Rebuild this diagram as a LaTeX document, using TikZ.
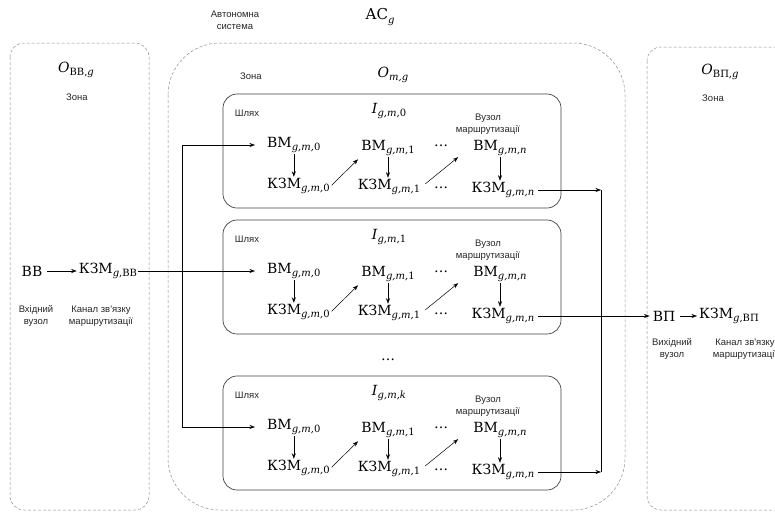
\documentclass[tikz,border=0pt]{standalone}
\usepackage{fontspec}
\setmainfont{DejaVu Serif}
\newfontfamily\labelfont{Liberation Sans}
\usetikzlibrary{arrows.meta}

% lowered small index
\newcommand\lsub[1]{\raisebox{-3.5pt}{\fontsize{10}{10}\selectfont #1}}
% index of the form g,m,<j>
\newcommand\gmi[1]{\lsub{\textit{g,m,}#1}}

% one route (path) box: #1 name prefix, #2 top edge, #3 route index
\newcommand\routepath[3]{%
  \draw[pathbox] (223,#2) rectangle (561,#2+114);
  \node[note] (#1-lab) at (247,#2+19) {Шлях};
  \node[big] (#1-id) at (389,#2+17) {\textit{I}\lsub{#3}};
  \node[note] (#1-rn) at (488,#2+30) {Вузол\\маршрутизації};
  \node[big, anchor=west] (#1-v0) at (266,#2+51) {ВМ\gmi{0}};
  \node[big, anchor=west] (#1-k0) at (266,#2+92) {КЗМ\gmi{0}};
  \node[big] (#1-v1) at (388,#2+54) {ВМ\gmi{1}};
  \node[big] (#1-k1) at (389,#2+93) {КЗМ\gmi{1}};
  \node[big] (#1-d1) at (441,#2+52) {…};
  \node[big] (#1-d2) at (441,#2+94) {…};
  \node[big] (#1-vn) at (500,#2+54) {ВМ\gmi{\textit{n}}};
  \node[big] (#1-kn) at (503,#2+96) {КЗМ\gmi{\textit{n}}};
  \draw[arr] (#1-v0.south) -- (#1-v0.south |- #1-k0.north);
  \draw[arr] (#1-v1.south) -- (#1-v1.south |- #1-k1.north);
  \draw[arr] (#1-vn.south) -- (#1-vn.south |- #1-kn.north);
  \draw[arr, shorten <=1pt, shorten >=3pt] (#1-k0.east) -- (#1-v1.south west);
  \draw[arr, shorten <=5pt] (#1-k1.east) -- ([xshift=-14pt]#1-vn.south west);
}

\begin{document}
\begin{tikzpicture}[x=1pt, y=-1pt,
  every node/.style={inner sep=1pt},
  big/.style={font=\fontsize{14}{16}\selectfont},
  note/.style={font=\labelfont\fontsize{9.5}{12}\selectfont, align=center, text=black!85},
  zone/.style={draw=black!45, densely dashed, line width=0.5pt},
  pathbox/.style={draw=black!75, line width=0.7pt, rounded corners=14pt},
  arr/.style={-{Stealth[length=5.5pt,width=4pt]}, line width=0.5pt},
  link/.style={line width=0.5pt}
]
\useasboundingbox (0,0) rectangle (775,512);
\clip (0,0) rectangle (775,512);

% zones
\draw[zone, rounded corners=14pt] (10,43) rectangle (149,510);
\draw[zone, rounded corners=52pt] (168,43) rectangle (625,510);
\draw[zone, rounded corners=14pt] (647,47) rectangle (800,510);

% headings
\node[note] (ashead) at (235,20) {Автономна\\система};
\node[font=\fontsize{15}{17}\selectfont] (as) at (380,17) {АС\lsub{\textit{g}}};
\node[big] (obb) at (76,70) {\textit{O}\lsub{ВВ,\textit{g}}};
\node[note] (zbb) at (77,97) {Зона};
\node[big] (om) at (393,75) {\textit{O}\lsub{\textit{m,g}}};
\node[note] (zm) at (251,76) {Зона};
\node[big] (ovp) at (720,72) {\textit{O}\lsub{ВП,\textit{g}}};
\node[note] (zvp) at (713,98) {Зона};

% routes
\routepath{a}{94}{\textit{g,m,}0}
\routepath{b}{220}{\textit{g,m,}1}
\routepath{c}{376}{\textit{g,m,k}}
\node[big] (gap) at (388,360) {…};

% ingress side
\node[big] (bb) at (32,271) {ВВ};
\node[big] (kbb) at (108,271) {КЗМ\lsub{\textit{g},ВВ}};
\node[note] (bbtxt) at (36,316) {Вхідний\\вузол};
\node[note] (kbbtxt) at (101,316) {Канал зв'язку\\маршрутизації};
\draw[arr, shorten <=4pt, shorten >=1pt] (bb) -- (kbb);
\coordinate (fork) at (kbb.east -| 182,0);
\draw[arr, shorten >=11pt] (kbb.east) -- (kbb.east -| b-v0.west);
\draw[arr, shorten >=11pt] (fork) |- (a-v0.west);
\draw[arr, shorten >=11pt] (fork) |- (c-v0.west);

% egress side
\node[big] (vp) at (664,316) {ВП};
\node[big, anchor=west] (kvp) at (698,316) {КЗМ\lsub{\textit{g},ВП}};
\node[note] (vptxt) at (672,349) {Вихідний\\вузол};
\node[note] (kvptxt) at (745,349) {Канал зв'язку\\маршрутизації};
\draw[arr, shorten <=4pt, shorten >=1pt] (vp) -- (kvp);
\coordinate (merge) at (b-kn.east -| 601,0);
\draw[arr, shorten <=3pt, shorten >=2pt] (b-kn.east) -- (vp.west);
\draw[arr, shorten <=3pt] (a-kn.east) -- (a-kn.east -| merge);
\draw[arr, shorten <=3pt] (c-kn.east) -- (c-kn.east -| merge);
\draw[link] (a-kn.east -| merge) -- (c-kn.east -| merge);
\end{tikzpicture}
\end{document}
